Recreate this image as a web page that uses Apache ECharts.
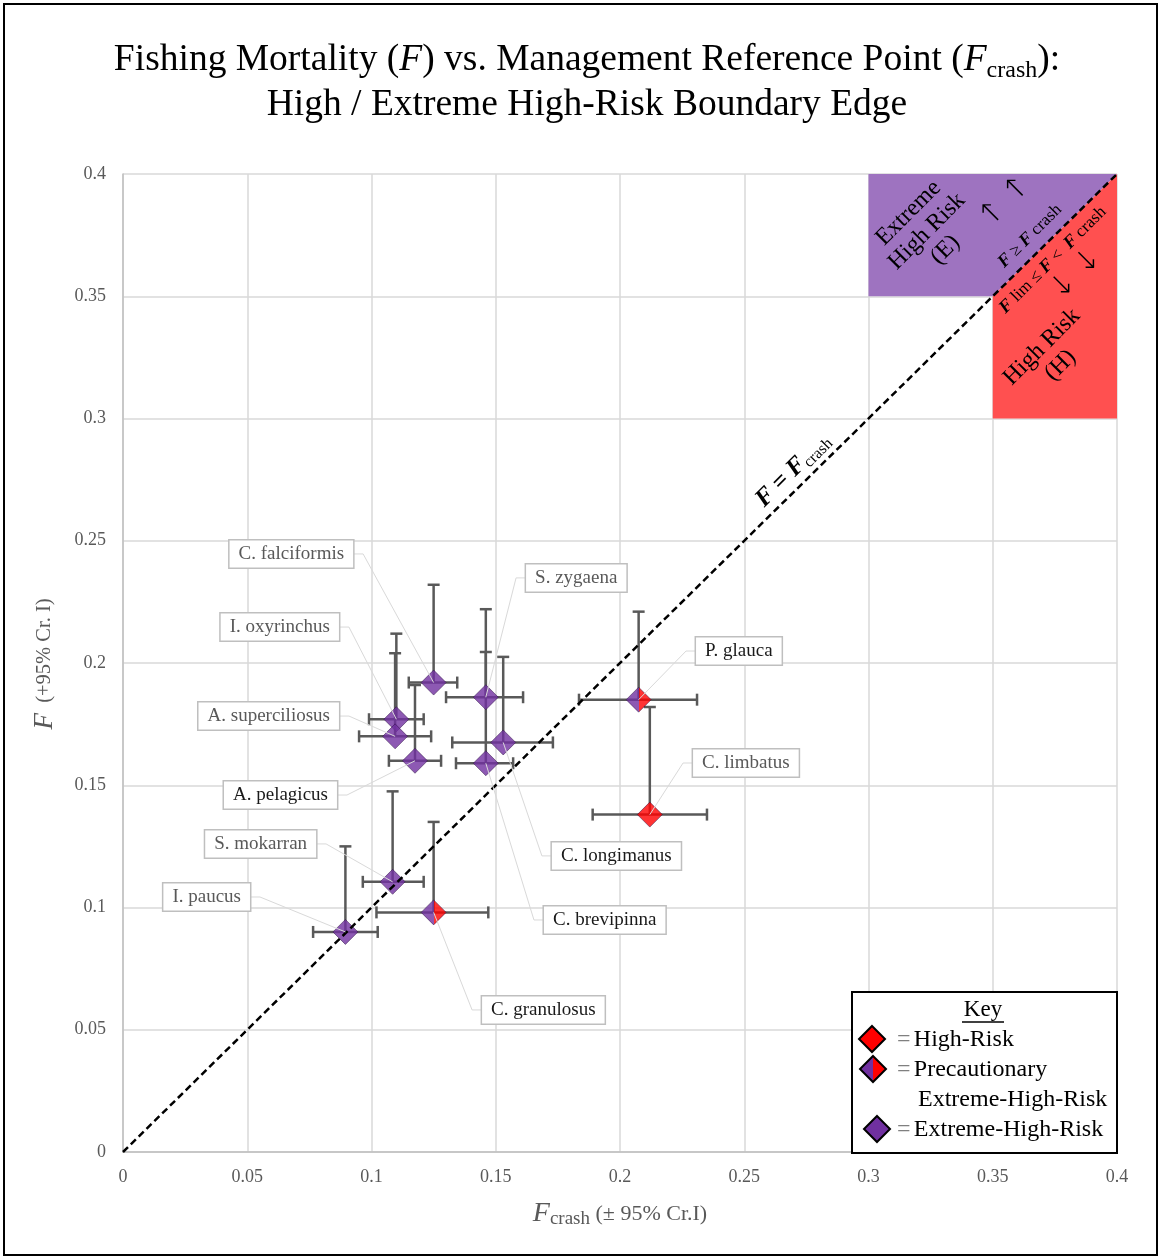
<!DOCTYPE html>
<html><head><meta charset="utf-8">
<script src="https://cdn.jsdelivr.net/npm/echarts@6/dist/echarts.min.js"></script>
<style>html,body{margin:0;padding:0;background:#fff}#c{width:1160px;height:1257px}</style>
</head><body><div id="c"></div>
<script>
// ---------- data ----------
const species    = ['C. falciformis','S. zygaena','I. oxyrinchus','A. superciliosus','A. pelagicus','C. longimanus','C. brevipinna','P. glauca','C. limbatus','S. mokarran','I. paucus','C. granulosus'];
const fCrash     = [0.125, 0.146, 0.110, 0.1095, 0.1175, 0.153, 0.146, 0.2075, 0.212, 0.1085, 0.0895, 0.125];
const fValue     = [0.192, 0.186, 0.177, 0.170, 0.160, 0.1675, 0.159, 0.185, 0.138, 0.1105, 0.090, 0.098];
const fCrashLow  = [0.115, 0.130, 0.099, 0.095, 0.107, 0.1325, 0.134, 0.1835, 0.189, 0.0965, 0.0765, 0.102];
const fCrashHigh = [0.1345, 0.161, 0.121, 0.124, 0.128, 0.173, 0.157, 0.231, 0.235, 0.121, 0.1025, 0.147];
const fUpper     = [0.232, 0.222, 0.212, 0.204, 0.191, 0.2025, 0.2045, 0.221, 0.182, 0.1475, 0.125, 0.135];
const riskClass  = ['E','E','E','E','E','E','E','P','H','E','E','P']; // E extreme, P precautionary, H high
// label anchors (data coords of the box edge nearest the point)
const labelX     = [0.0926, 0.1622, 0.0869, 0.0869, 0.0861, 0.1726, 0.1694, 0.2306, 0.2294, 0.0777, 0.0511, 0.1445];
const labelY     = [0.2446, 0.2348, 0.2147, 0.1783, 0.1460, 0.1211, 0.0949, 0.2049, 0.1591, 0.1260, 0.1043, 0.0581];
const labelSide  = ['L','R','L','L','L','R','R','R','R','L','L','R'];
const labelDark  = [false,false,false,false,true,true,true,true,false,false,false,true];
const axisTicks  = [0, 0.05, 0.1, 0.15, 0.2, 0.25, 0.3, 0.35, 0.4];
const extremeZone = [[0.3,0.35],[0.35,0.35],[0.4,0.4],[0.3,0.4]];
const highZone    = [[0.35,0.3],[0.4,0.3],[0.4,0.4],[0.35,0.35]];
const identityLine = [[0,0],[0.4,0.4]];

const PURPLE = '#7030A0', RED = '#FF0000';
const FONT = '"Liberation Serif", "Times New Roman", serif';
const splitFill = {type:'linear',x:0,y:0,x2:1,y2:0,colorStops:[
  {offset:0,color:PURPLE},{offset:0.5,color:PURPLE},{offset:0.5,color:RED},{offset:1,color:RED}]};
function fillFor(c){ return c==='H' ? RED : (c==='P' ? splitFill : PURPLE); }

const chart = echarts.init(document.getElementById('c'), null, {renderer:'canvas'});

const axisCommon = {
  type:'value', min:0, max:0.4, interval:0.05,
  axisLine:{show:true, lineStyle:{color:'#bfbfbf', width:1.5}},
  axisTick:{show:false},
  splitLine:{show:true, lineStyle:{color:'#d9d9d9', width:1.5}},
  axisLabel:{color:'#595959', fontFamily:FONT, fontSize:18,
    formatter: v => { const t = axisTicks.find(a => Math.abs(a-v)<1e-9); return t===undefined ? '' : String(t); }}
};

const pointData = species.map((s,i)=>({value:[fCrash[i], fValue[i]], itemStyle:{color:fillFor(riskClass[i])}}));
const errData = species.map((s,i)=>[fCrash[i], fValue[i], fCrashLow[i], fCrashHigh[i], fUpper[i]]);
const labelData = species.map((s,i)=>[fCrash[i], fValue[i], labelX[i], labelY[i], i]);

const option = {
  animation:false,
  backgroundColor:'#fff',
  grid:{left:123, top:174, right:43, bottom:105, containLabel:false},
  xAxis: Object.assign({}, axisCommon, {axisLabel:Object.assign({}, axisCommon.axisLabel, {margin:16})}),
  yAxis: Object.assign({}, axisCommon, {axisLabel:Object.assign({}, axisCommon.axisLabel, {margin:17})}),
  series:[
    { // risk zones
      type:'custom', z:1, silent:true, data:[[0],[1]],
      renderItem:(params, api)=>{
        const zone = api.value(0)===0 ? extremeZone : highZone;
        return {type:'polygon', shape:{points: zone.map(p=>api.coord(p))},
          style:{fill: api.value(0)===0 ? '#9E73C0' : '#FF5050', stroke:null}};
      }
    },
    { // error bars
      type:'custom', z:3, silent:true, data:errData,
      renderItem:(params, api)=>{
        const p = api.coord([api.value(0), api.value(1)]);
        const pl = api.coord([api.value(2), api.value(1)]);
        const ph = api.coord([api.value(3), api.value(1)]);
        const pt = api.coord([api.value(0), api.value(4)]);
        const cap = 6;
        const st = {stroke:'#595959', lineWidth:2.5};
        return {type:'group', children:[
          {type:'line', shape:{x1:pl[0],y1:pl[1],x2:ph[0],y2:ph[1]}, style:st},
          {type:'line', shape:{x1:p[0],y1:p[1],x2:pt[0],y2:pt[1]}, style:st},
          {type:'line', shape:{x1:pl[0],y1:pl[1]-cap,x2:pl[0],y2:pl[1]+cap}, style:st},
          {type:'line', shape:{x1:ph[0],y1:ph[1]-cap,x2:ph[0],y2:ph[1]+cap}, style:st},
          {type:'line', shape:{x1:pt[0]-cap,y1:pt[1],x2:pt[0]+cap,y2:pt[1]}, style:st}
        ]};
      }
    },
    { // points
      type:'scatter', z:4, symbol:'diamond', symbolSize:25, data:pointData,
      itemStyle:{borderColor:'rgba(40,10,60,0.6)', borderWidth:1}
    },
    { // F = Fcrash
      type:'line', z:5, silent:true, symbol:'none', data:identityLine,
      lineStyle:{color:'#000', width:2.5, type:[7,4]}
    },
    { // labels with leader lines
      type:'custom', z:6, silent:true, data:labelData,
      renderItem:(params, api)=>{
        const i = api.value(4);
        const p = api.coord([api.value(0), api.value(1)]);
        const a = api.coord([api.value(2), api.value(3)]);
        const left = labelSide[i]==='L';
        const elbow = [a[0] + (left ? 10 : -10), a[1]];
        return {type:'group', children:[
          {type:'polyline', shape:{points:[a, elbow, p]}, style:{stroke:'#d9d9d9', lineWidth:1, fill:null}},
          {type:'text', x:a[0], y:a[1], style:{
            text:species[i], font:'19px '+FONT, fill: labelDark[i] ? '#1a1a1a' : '#595959',
            align: left ? 'right' : 'left', verticalAlign:'middle',
            backgroundColor:'#fff', borderColor:'#bfbfbf', borderWidth:1.5, padding:[5,9,3,9]}}
        ]};
      }
    }
  ]
};
chart.setOption(option);

// ---------- annotations (anchored in data coordinates) ----------
const annotations = [
  {at:[0.3235,0.3765], text:'Extreme\nHigh Risk\n(E)', size:24, lh:26},
  {at:[0.3549,0.3885], text:'↑ ↑', size:30, lh:30, fam:'"DejaVu Sans", sans-serif', weight:'lighter'},
  {at:[0.3650,0.3746], rich:'{b|F} ≥ {b|F} crash', size:17},
  {at:[0.3742,0.3648], rich:'{b|F} lim ≤ {b|F} <  {b|F} crash', size:17},
  {at:[0.3835,0.3590], text:'↓ ↓', size:30, lh:30, fam:'"DejaVu Sans", sans-serif', weight:'lighter'},
  {at:[0.3735,0.3255], text:'High Risk\n(H)', size:24, lh:26}
];
const g = [];
annotations.forEach(a=>{
  const px = chart.convertToPixel({gridIndex:0}, a.at);
  const style = {font: (a.weight ? a.weight+' ' : '') + a.size+'px '+(a.fam||FONT), fill:'#000', align:'center', verticalAlign:'middle'};
  if (a.rich) {
    style.text = a.rich;
    style.rich = {b:{fontStyle:'italic', fontWeight:'bold', fontSize:a.size+1, fontFamily:FONT}};
  } else { style.text = a.text; style.lineHeight = a.lh; }
  g.push({type:'text', x:px[0], y:px[1], rotation:Math.PI/4, z:50, style});
});
const diagPx = chart.convertToPixel({gridIndex:0}, [0.2696, 0.2789]);
g.push({type:'text', x:diagPx[0], y:diagPx[1], rotation:Math.PI/4, z:50, style:{
  text:'{b|F = F}{s|crash}', align:'center', verticalAlign:'middle', fill:'#000',
  rich:{b:{fontFamily:FONT, fontSize:25, fontWeight:'bold', fontStyle:'italic', lineHeight:28, verticalAlign:'middle'},
        s:{fontFamily:FONT, fontSize:16, verticalAlign:'bottom', lineHeight:16}}}});

// title
g.push({type:'text', x:587, y:60, z:50, style:{
  text:'{n|Fishing Mortality (}{i|F}{n|) vs. Management Reference Point (}{i|F}{s|crash}{n|):}',
  align:'center', verticalAlign:'middle', fill:'#000',
  rich:{n:{fontFamily:FONT, fontSize:37.5, lineHeight:46, verticalAlign:'middle'},
        i:{fontFamily:FONT, fontSize:37.5, fontStyle:'italic', lineHeight:46, verticalAlign:'middle'},
        s:{fontFamily:FONT, fontSize:24, lineHeight:22, verticalAlign:'bottom'}}}});
g.push({type:'text', x:587, y:105, z:50, style:{
  text:'High / Extreme High-Risk Boundary Edge', font:'37.5px '+FONT, fill:'#000', align:'center', verticalAlign:'middle'}});

// axis names
g.push({type:'text', x:620, y:1214, z:50, style:{
  text:'{i|F}{s|crash}{n| (± 95% Cr.I)}', align:'center', verticalAlign:'middle', fill:'#595959',
  rich:{i:{fontFamily:FONT, fontSize:28, fontStyle:'italic', lineHeight:30, verticalAlign:'middle'},
        s:{fontFamily:FONT, fontSize:19, lineHeight:16, verticalAlign:'bottom'},
        n:{fontFamily:FONT, fontSize:22, lineHeight:30, verticalAlign:'middle'}}}});
g.push({type:'text', x:45, y:664, rotation:Math.PI/2, z:50, style:{
  text:'{i|F}{n|  (+95% Cr. I)}', align:'center', verticalAlign:'middle', fill:'#595959',
  rich:{i:{fontFamily:FONT, fontSize:27, fontStyle:'italic', verticalAlign:'middle'},
        n:{fontFamily:FONT, fontSize:20.5, verticalAlign:'middle'}}}});

// key
const kx = 852, ky = 992;
g.push({type:'rect', z:60, shape:{x:kx, y:ky, width:265, height:161}, style:{fill:'#fff', stroke:'#000', lineWidth:2}});
g.push({type:'text', z:61, x:983, y:1010, style:{text:'Key', font:'23px '+FONT, fill:'#000', align:'center', verticalAlign:'middle'}});
g.push({type:'line', z:61, shape:{x1:962,y1:1022,x2:1004,y2:1022}, style:{stroke:'#000', lineWidth:1.5}});
function dia(cx, cy, r, fill){ return {type:'polygon', z:61, shape:{points:[[cx,cy-r],[cx+r,cy],[cx,cy+r],[cx-r,cy]]}, style:{fill, stroke:'#000', lineWidth:2}}; }
g.push(dia(872,1039,13,RED));
g.push({type:'polygon', z:61, shape:{points:[[873,1056],[873,1082],[860,1069]]}, style:{fill:PURPLE}});
g.push({type:'polygon', z:61, shape:{points:[[873,1056],[886,1069],[873,1082]]}, style:{fill:RED}});
g.push({type:'polygon', z:62, shape:{points:[[873,1056],[886,1069],[873,1082],[860,1069]]}, style:{fill:null, stroke:'#000', lineWidth:2}});
g.push(dia(877,1129,13,PURPLE));
const keyRich = {e:{fontFamily:FONT, fontSize:24, fill:'#808080'}, t:{fontFamily:FONT, fontSize:24, fill:'#000'}};
g.push({type:'text', z:61, x:897, y:1040, style:{text:'{e|=} {t|High-Risk}', rich:keyRich, align:'left', verticalAlign:'middle'}});
g.push({type:'text', z:61, x:897, y:1070, style:{text:'{e|=} {t|Precautionary}', rich:keyRich, align:'left', verticalAlign:'middle'}});
g.push({type:'text', z:61, x:918, y:1100, style:{text:'{t|Extreme-High-Risk}', rich:keyRich, align:'left', verticalAlign:'middle'}});
g.push({type:'text', z:61, x:897, y:1130, style:{text:'{e|=} {t|Extreme-High-Risk}', rich:keyRich, align:'left', verticalAlign:'middle'}});

// outer frame
g.push({type:'rect', z:70, shape:{x:4, y:4, width:1153, height:1251}, style:{fill:null, stroke:'#000', lineWidth:2}});

chart.setOption({graphic:g});
</script>
</body></html>
